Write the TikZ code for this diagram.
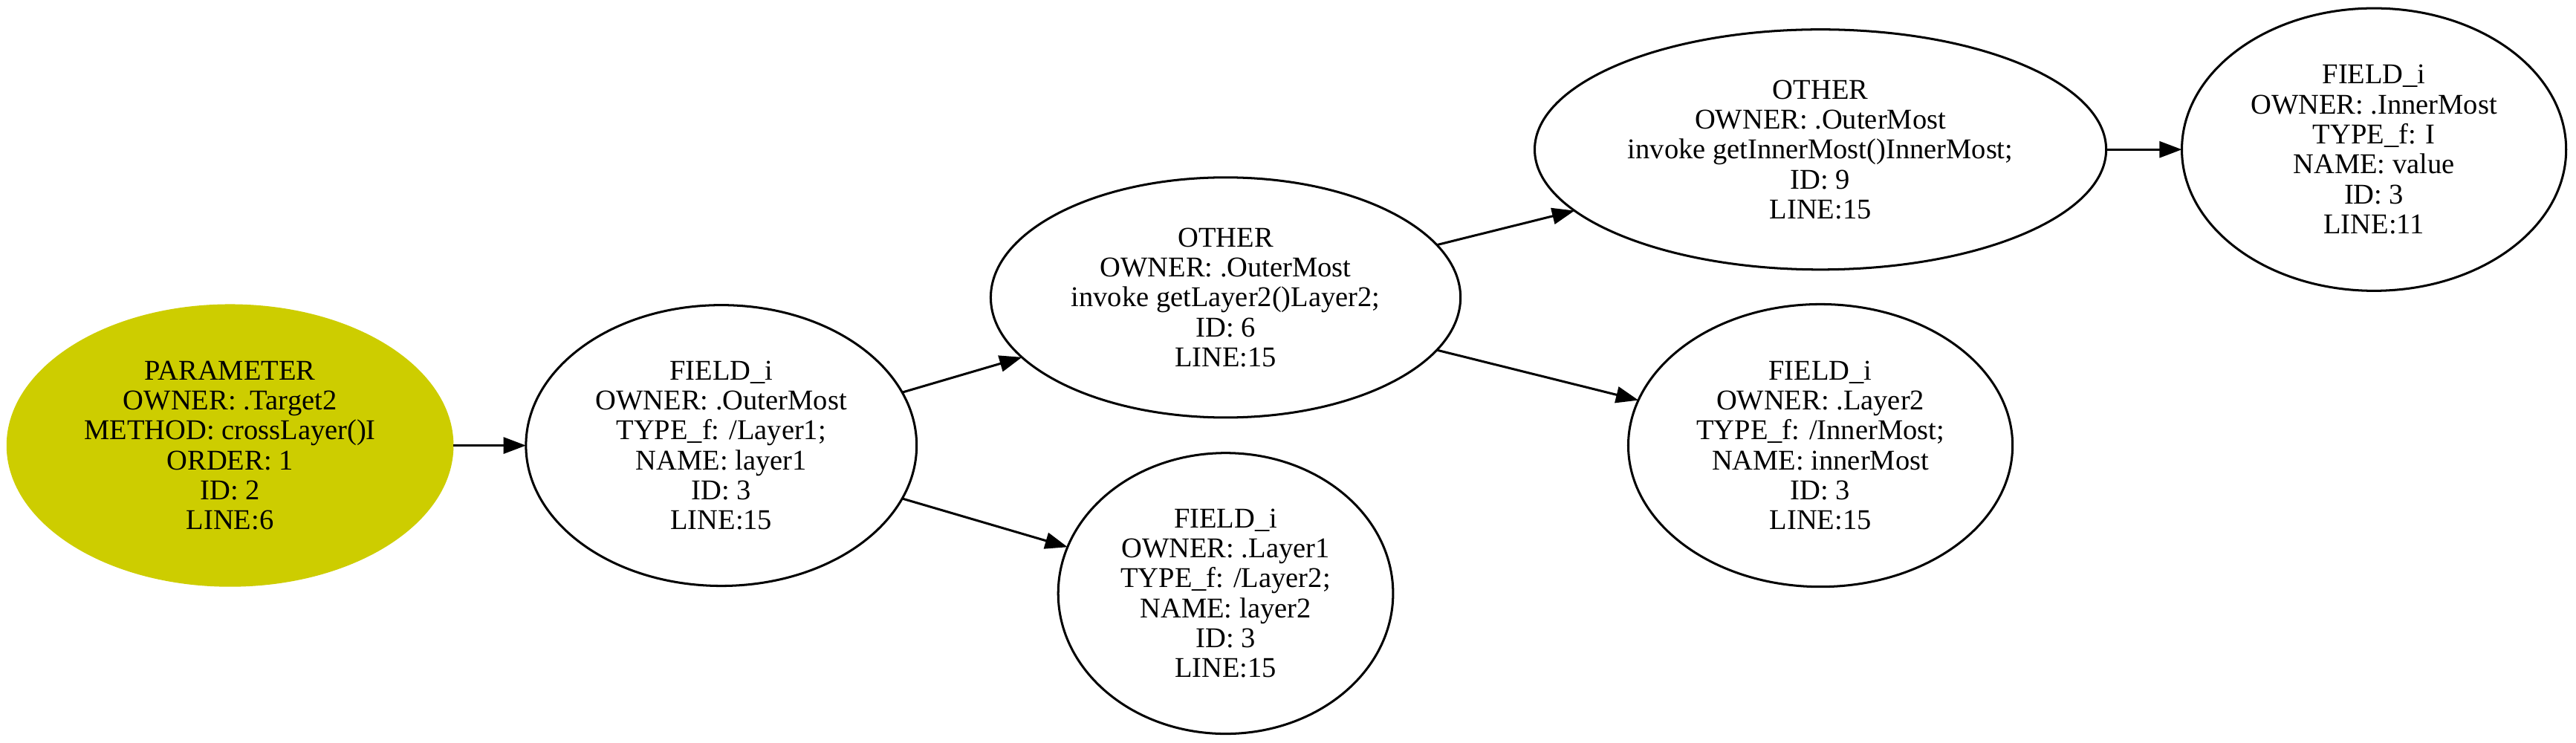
\documentclass[tikz,border=0pt]{standalone}
\usepackage{fontspec}
\setmainfont{Liberation Serif}
\usetikzlibrary{shapes.geometric,arrows.meta}

\definecolor{paramyellow}{RGB}{205,205,0}

\tikzset{
    infonode/.style={ellipse, draw, line width=1.1pt, inner sep=0pt, outer sep=0pt,
        align=center, font=\fontsize{14}{14.65}\selectfont},
    paramnode/.style={infonode, draw=none, fill=paramyellow},
    flow/.style={line width=1.1pt, -{Triangle[length=11pt,width=8pt]}}
}

\begin{document}
\begin{tikzpicture}
    \useasboundingbox (0,0) rectangle (44.31,12.78);

    \node[paramnode, minimum width=7.69cm, minimum height=4.86cm] (param) at (3.957,5.117)
        {PARAMETER\\OWNER: .Target2\\METHOD: crossLayer()I\\ORDER: 1\\ID: 2\\LINE:6};
    \node[infonode, minimum width=6.72cm, minimum height=4.83cm] (layerone) at (12.407,5.117)
        {FIELD\_i\\OWNER: .OuterMost\\TYPE\_f: /Layer1;\\NAME: layer1\\ID: 3\\LINE:15};

    \node[infonode, minimum width=8.08cm, minimum height=4.13cm] (getlayertwo) at (21.082,7.663)
        {OTHER\\OWNER: .OuterMost\\invoke getLayer2()Layer2;\\ID: 6\\LINE:15};
    \node[infonode, minimum width=5.76cm, minimum height=4.83cm] (layertwo) at (21.082,2.573)
        {FIELD\_i\\OWNER: .Layer1\\TYPE\_f: /Layer2;\\NAME: layer2\\ID: 3\\LINE:15};

    \node[infonode, minimum width=9.83cm, minimum height=4.13cm] (getinner) at (31.313,10.208)
        {OTHER\\OWNER: .OuterMost\\invoke getInnerMost()InnerMost;\\ID: 9\\LINE:15};
    \node[infonode, minimum width=6.61cm, minimum height=4.86cm] (innermost) at (31.313,5.117)
        {FIELD\_i\\OWNER: .Layer2\\TYPE\_f: /InnerMost;\\NAME: innerMost\\ID: 3\\LINE:15};

    \node[infonode, minimum width=6.61cm, minimum height=4.86cm] (value) at (40.835,10.208)
        {FIELD\_i\\OWNER: .InnerMost\\TYPE\_f: I\\NAME: value\\ID: 3\\LINE:11};

    \draw[flow] (param) -- (layerone);
    \draw[flow] (layerone) -- (getlayertwo);
    \draw[flow] (layerone) -- (layertwo);
    \draw[flow] (getlayertwo) -- (getinner);
    \draw[flow] (getlayertwo) -- (innermost);
    \draw[flow] (getinner) -- (value);
\end{tikzpicture}
\end{document}
